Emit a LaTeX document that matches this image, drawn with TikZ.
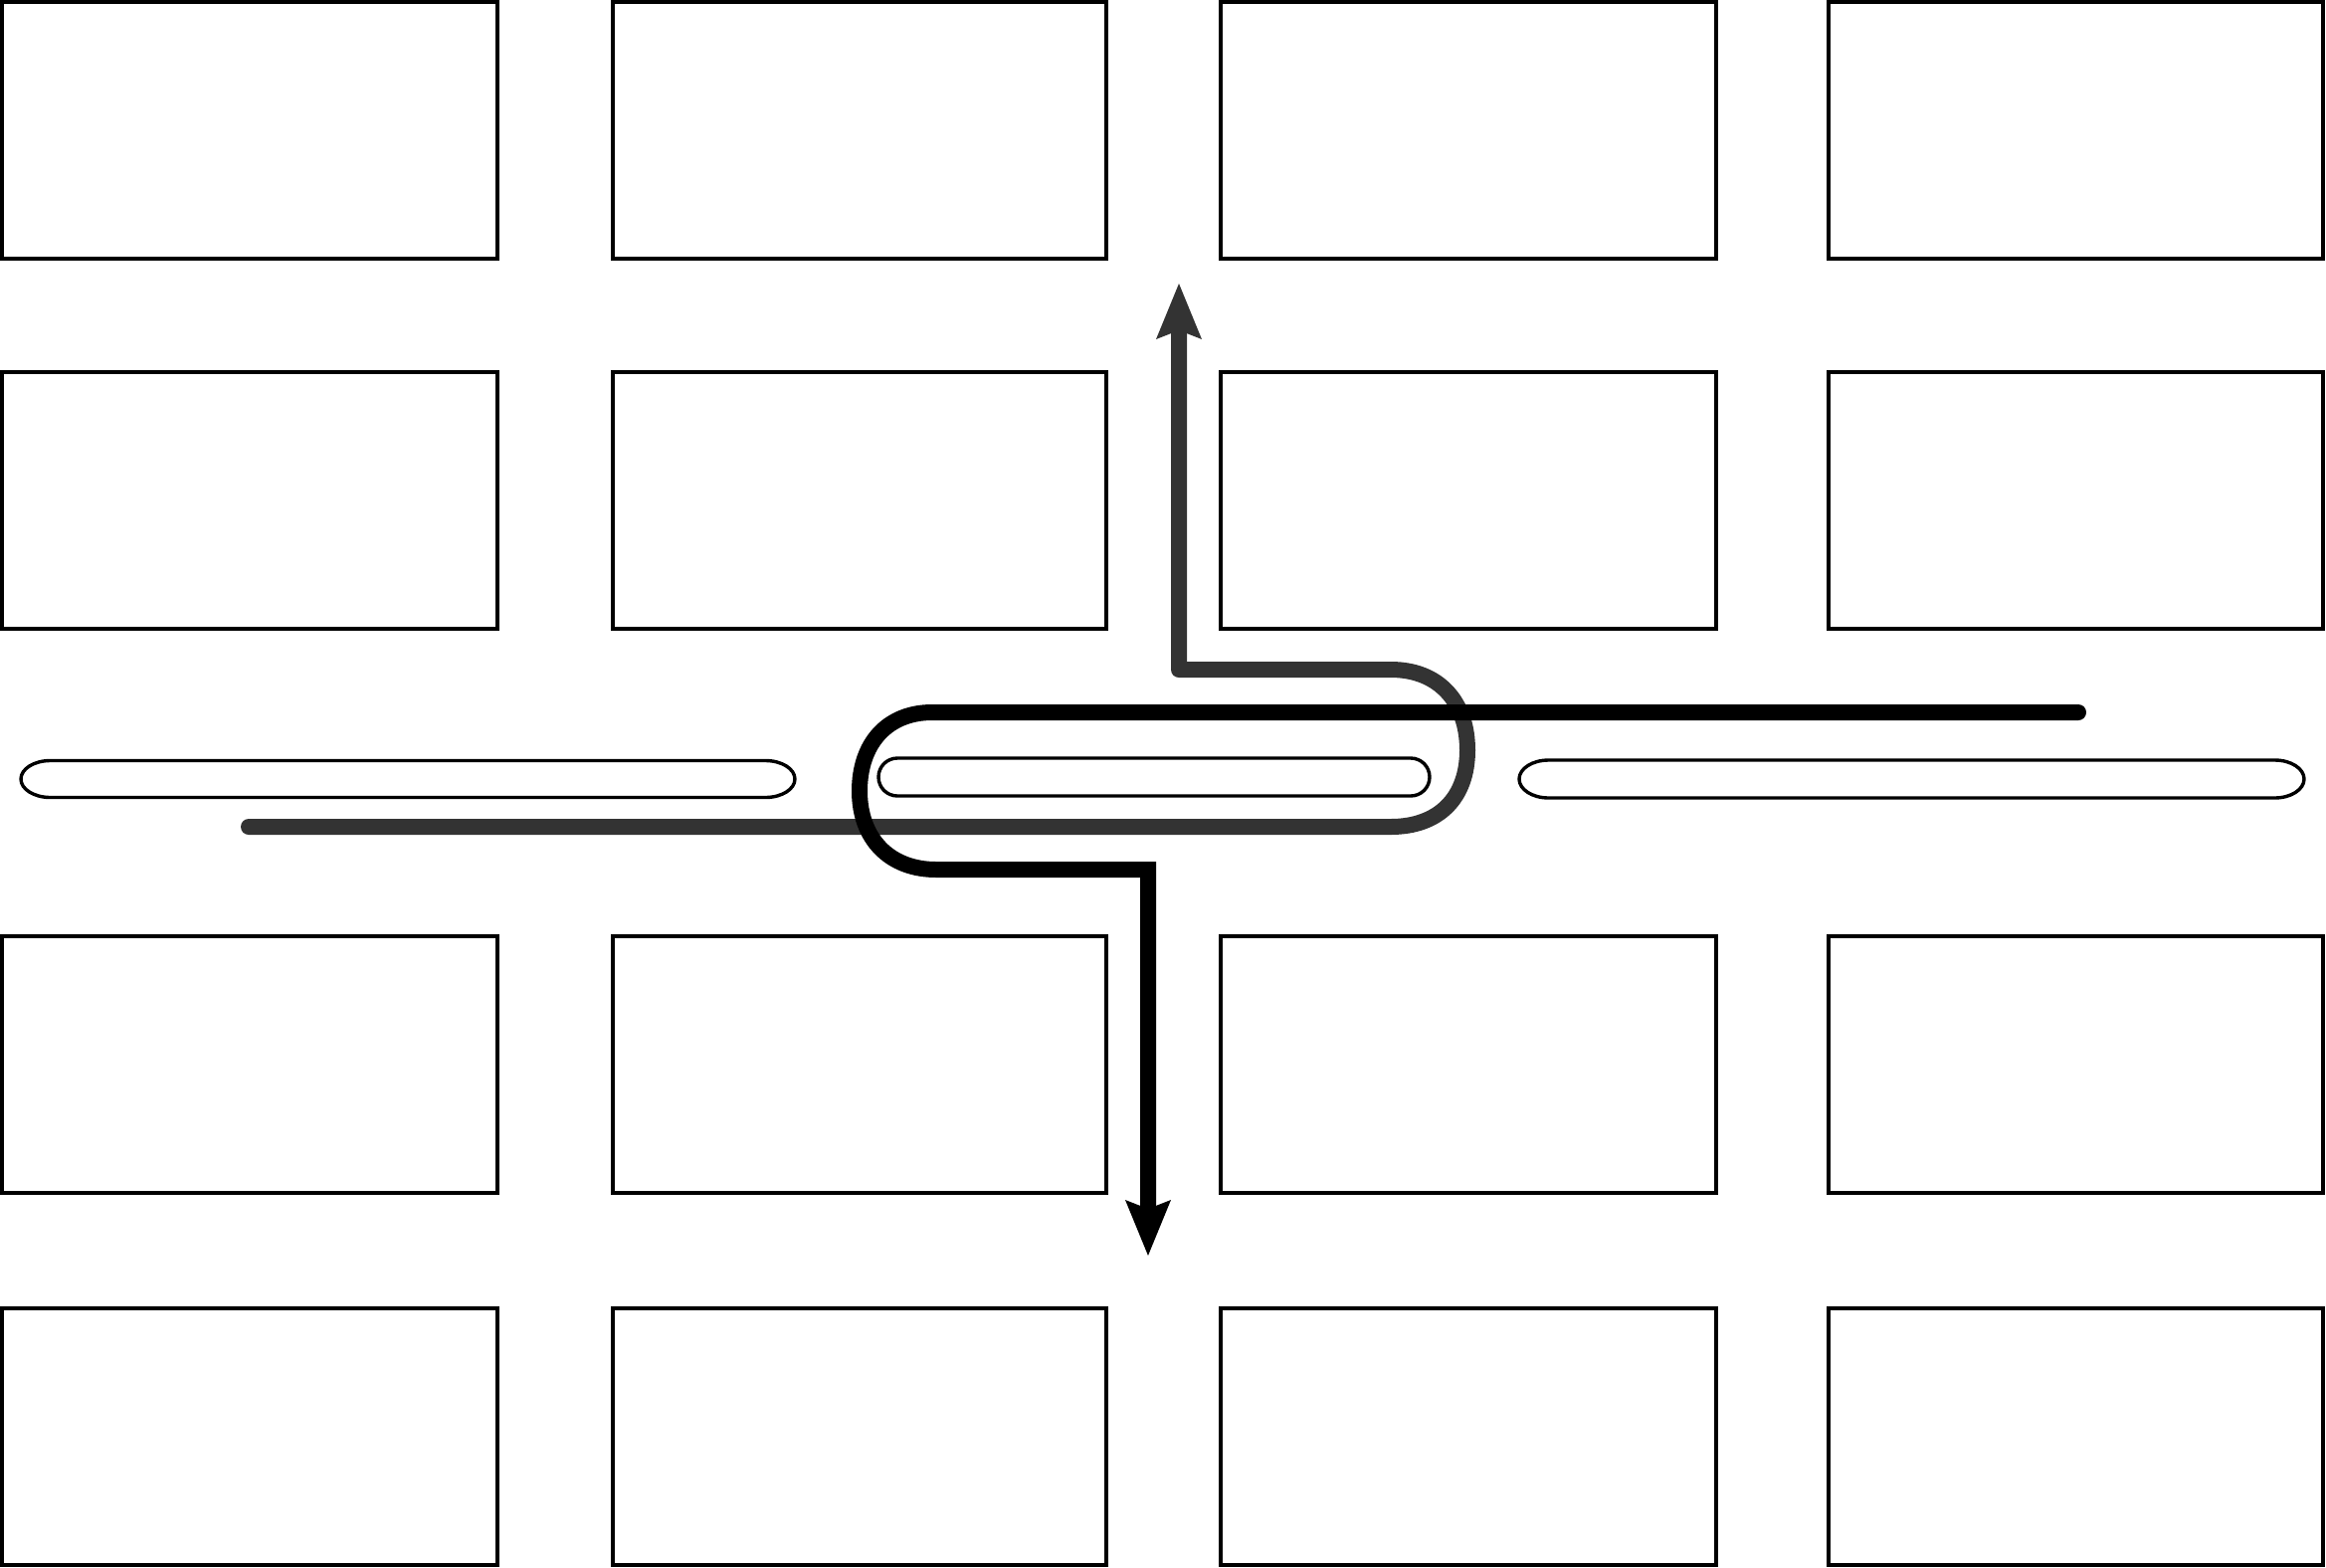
\documentclass[tikz,border=0pt]{standalone}
\usetikzlibrary{arrows.meta}
\definecolor{pathgray}{HTML}{333333}
\begin{document}
\begin{tikzpicture}[x=1pt,y=-1pt,
  cell/.style={draw=black, line width=3.6pt, fill=white, inner sep=0pt, outer sep=0pt, anchor=north west},
  pill/.style={draw=black, line width=3.4pt, fill=white},
  headtip/.style={-{Stealth[length=56pt,width=46pt,inset=9pt,line width=0pt]}},
  grayroute/.style={draw=pathgray, line width=16pt, line cap=round, line join=round, headtip},
  blackroute/.style={draw=black, line width=16pt, line cap=round, line join=miter, headtip}]
\useasboundingbox (0,0) rectangle (2338,1575);
% grid of boxes
\foreach \cx/\cw [count=\i] in {2/498,616/496,1227/498,1838/497}{
  \foreach \ry [count=\j] in {2,374,941,1315}{
    \node[cell, minimum width=\cw pt, minimum height=258pt] (r\j\i) at (\cx,\ry) {};
  }
}
% pills
\draw[pill] (50.5,764.5) -- (769.5,764.5) arc[start angle=90,end angle=-90,x radius=29.5pt,y radius=18.5pt]
  -- (50.5,801.5) arc[start angle=270,end angle=90,x radius=29.5pt,y radius=18.5pt] -- cycle;
\draw[pill] (902,762) -- (1418,762) arc[start angle=90,end angle=-90,radius=19pt]
  -- (902,800) arc[start angle=270,end angle=90,radius=19pt] -- cycle;
\draw[pill] (1556.5,764) -- (2286.5,764) arc[start angle=90,end angle=-90,x radius=29.5pt,y radius=19pt]
  -- (1556.5,802) arc[start angle=270,end angle=90,x radius=29.5pt,y radius=19pt] -- cycle;
% route ends
\coordinate (gs) at (250,831);
\coordinate (gt) at (1185,285);
\coordinate (bs) at (2089,716);
\coordinate (bt) at (1154,1262);
% gray route (under)
\draw[grayroute] (gs) -- (1398,831) .. controls (1446,831) and (1475,802) .. (1475,754)
  .. controls (1475,705) and (1446,673) .. (1398,673) -- (1185,673) -- (gt);
% black route (over)
\draw[blackroute] (bs) -- (937,716) .. controls (892,716) and (864,747) .. (864,795)
  .. controls (864,843) and (894,874) .. (941,874) -- (1154,874) -- (bt);
\end{tikzpicture}
\end{document}
